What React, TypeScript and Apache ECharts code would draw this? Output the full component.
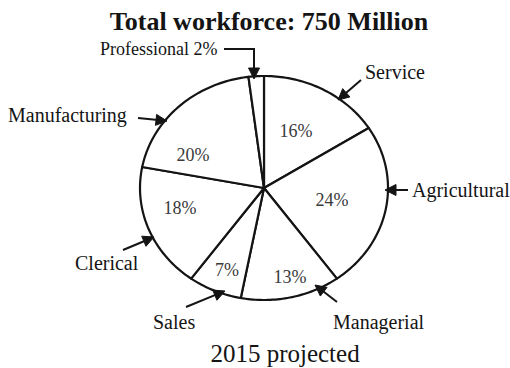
import React, { useEffect, useRef } from "react";
import * as echarts from "echarts";

const categories = ["Service", "Agricultural", "Managerial", "Sales", "Clerical", "Manufacturing", "Professional"];
const shares = [16, 24, 13, 7, 18, 20, 2];
const shareLabels = ["16%", "24%", "13%", "7%", "18%", "20%", ""];
const titleText = "Total workforce: 750 Million";
const subtitleText = "2015 projected";

// layout (not data)
const CX = 264;
const CY = 188;
const RX = 124;
const RY = 112;
const SERIF = "'Liberation Serif', 'Times New Roman', serif";
const INK = "#141414";

const pctPos: Record<string, [number, number]> = {
  Service: [296, 131],
  Agricultural: [332, 200],
  Managerial: [290, 277],
  Sales: [227, 270],
  Clerical: [180, 208],
  Manufacturing: [193, 155],
};

function ellPt(theta: number): [number, number] {
  return [CX + RX * Math.sin(theta), CY - RY * Math.cos(theta)];
}

function arrow(x1: number, y1: number, x2: number, y2: number): any[] {
  const dx = x2 - x1;
  const dy = y2 - y1;
  const len = Math.sqrt(dx * dx + dy * dy);
  const ux = dx / len;
  const uy = dy / len;
  const hl = 11;
  const hw = 5.5;
  const bx = x2 - ux * hl;
  const by = y2 - uy * hl;
  return [
    { type: "line", shape: { x1, y1, x2: bx + ux * 2, y2: by + uy * 2 }, style: { stroke: INK, lineWidth: 2 }, z: 10 },
    {
      type: "polygon",
      shape: { points: [[x2, y2], [bx - uy * hw, by + ux * hw], [bx + uy * hw, by - ux * hw]] },
      style: { fill: INK, stroke: INK, lineWidth: 1 },
      z: 10,
    },
  ];
}

function label(text: string, x: number, y: number, size: number, align: string, bold = false): any {
  return {
    type: "text",
    x,
    y,
    z: 10,
    style: {
      text,
      fill: INK,
      font: `${bold ? "bold " : ""}${size}px ${SERIF}`,
      align,
      verticalAlign: "middle",
    },
  };
}

export default function App() {
  const ref = useRef<HTMLDivElement>(null);

  useEffect(() => {
    if (!ref.current) return;
    const chart = echarts.init(ref.current, null, { renderer: "svg" });
    const total = shares.reduce((a, b) => a + b, 0);

    const renderItem = (params: any, api: any) => {
      const i = params.dataIndex;
      let before = 0;
      for (let k = 0; k < i; k++) before += shares[k];
      const a0 = (before / total) * Math.PI * 2;
      const a1 = ((before + shares[i]) / total) * Math.PI * 2;
      const steps = Math.max(4, Math.ceil((a1 - a0) / 0.02));
      const pts: number[][] = [[CX, CY]];
      for (let s = 0; s <= steps; s++) {
        pts.push(ellPt(a0 + ((a1 - a0) * s) / steps));
      }
      const children: any[] = [
        {
          type: "polygon",
          shape: { points: pts },
          style: { fill: "#ffffff", stroke: INK, lineWidth: 2.2, lineJoin: "round" },
        },
      ];
      const name = categories[i];
      const pos = pctPos[name];
      if (shareLabels[i] && pos) {
        children.push({
          type: "text",
          x: pos[0],
          y: pos[1],
          style: {
            text: shareLabels[i],
            fill: "#3a3a3a",
            font: `18px ${SERIF}`,
            align: "center",
            verticalAlign: "middle",
          },
        });
      }
      return { type: "group", children };
    };

    chart.setOption({
      animation: false,
      backgroundColor: "#ffffff",
      series: [
        {
          type: "custom",
          coordinateSystem: "none",
          renderItem,
          data: shares.map((v, i) => ({ value: [v], name: categories[i] })),
        },
      ],
      graphic: {
        elements: [
          label(titleText, 269, 21, 26, "center", true),
          label(subtitleText, 285, 353, 25, "center"),
          label("Professional 2%", 100, 49, 18, "left"),
          { type: "polyline", shape: { points: [[224, 49], [254, 49], [254, 70]] }, style: { stroke: INK, lineWidth: 2, fill: null }, z: 10 },
          ...arrow(254, 66, 254, 79),
          label("Service", 365, 72, 20, "left"),
          ...arrow(361, 80, 338, 100),
          label("Agricultural", 412, 190, 20, "left"),
          ...arrow(408, 190, 385, 190),
          label("Manufacturing", 8, 115, 20, "left"),
          ...arrow(138, 118, 167, 121),
          label("Clerical", 75, 263, 20, "left"),
          ...arrow(123, 250, 154, 237),
          label("Sales", 153, 322, 20, "left"),
          ...arrow(186, 307, 225, 291),
          label("Managerial", 333, 322, 20, "left"),
          ...arrow(337, 302, 315, 285),
        ],
      },
    });
    return () => chart.dispose();
  }, []);

  return (
    <div
      ref={ref}
      style={{ position: "fixed", left: 0, top: 0, width: 510, height: 368, background: "#fff" }}
    />
  );
}
